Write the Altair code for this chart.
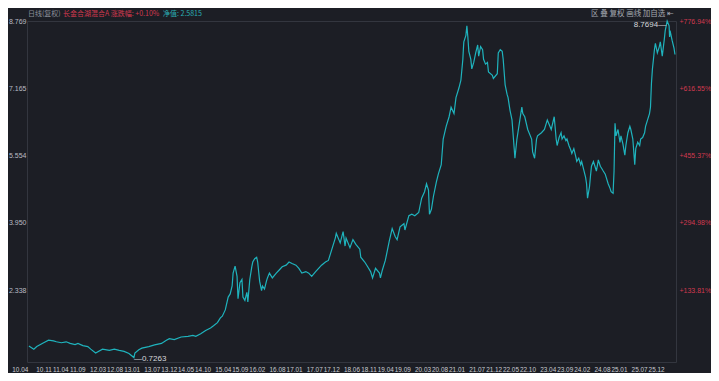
import altair as alt
import pandas as pd

# decimal-year positions and NAV values
T = [2010.274, 2010.395, 2010.468, 2010.637, 2010.758, 2010.879, 2010.951, 2011.072, 2011.193, 2011.290,
     2011.411, 2011.483, 2011.604, 2011.725, 2011.797, 2011.918, 2012.088, 2012.257, 2012.378, 2012.499,
     2012.619, 2012.740, 2012.861, 2012.885, 2012.982, 2013.055, 2013.224, 2013.369, 2013.538, 2013.659,
     2013.732, 2013.853, 2014.022, 2014.191, 2014.312,
     2014.384, 2014.505, 2014.626, 2014.747, 2014.820, 2014.916, 2014.989, 2015.037, 2015.110, 2015.182,
     2015.231, 2015.279, 2015.303, 2015.352, 2015.400, 2015.424, 2015.472, 2015.521, 2015.545, 2015.593,
     2015.642, 2015.666, 2015.714, 2015.763, 2015.787, 2015.835, 2015.883, 2015.908, 2015.956, 2016.004,
     2016.028, 2016.077, 2016.125, 2016.149, 2016.198, 2016.270, 2016.367, 2016.440, 2016.512, 2016.609,
     2016.681, 2016.754, 2016.851, 2016.923, 2016.996, 2017.093, 2017.165, 2017.237, 2017.334, 2017.407,
     2017.479, 2017.576,
     2017.648, 2017.721, 2017.818, 2017.842, 2017.939, 2018.011, 2018.059, 2018.084, 2018.180, 2018.253,
     2018.325, 2018.422, 2018.446, 2018.543, 2018.616, 2018.688, 2018.736, 2018.809, 2018.906, 2018.930,
     2018.978, 2019.051, 2019.148, 2019.220, 2019.293, 2019.341, 2019.414, 2019.510, 2019.534, 2019.631,
     2019.704, 2019.777, 2019.873, 2019.946, 2020.018, 2020.066, 2020.115, 2020.139, 2020.187, 2020.236,
     2020.308, 2020.357, 2020.429,
     2020.477, 2020.550, 2020.622, 2020.671, 2020.743, 2020.792, 2020.864, 2020.913, 2020.961, 2020.973,
     2020.985, 2021.034, 2021.058, 2021.082, 2021.106, 2021.155, 2021.179, 2021.227, 2021.275, 2021.324,
     2021.348, 2021.396, 2021.445, 2021.469, 2021.517, 2021.565, 2021.590, 2021.686, 2021.710, 2021.807,
     2021.831, 2021.880, 2021.928, 2021.952, 2022.001, 2022.049, 2022.073, 2022.121, 2022.170, 2022.194,
     2022.242, 2022.291, 2022.315, 2022.363, 2022.412, 2022.436, 2022.484, 2022.557, 2022.653, 2022.678,
     2022.726, 2022.774, 2022.798, 2022.895, 2022.968, 2023.040, 2023.137, 2023.210,
     2023.258, 2023.282, 2023.330, 2023.379, 2023.403, 2023.451, 2023.499, 2023.524, 2023.572, 2023.620,
     2023.644, 2023.693, 2023.741, 2023.765, 2023.814, 2023.862, 2023.886, 2023.934, 2023.983, 2024.007,
     2024.031, 2024.079, 2024.104, 2024.128, 2024.176, 2024.225, 2024.249, 2024.297, 2024.346, 2024.370,
     2024.418, 2024.467, 2024.491, 2024.539, 2024.588, 2024.612, 2024.660, 2024.684, 2024.708, 2024.733,
     2024.781, 2024.830, 2024.854, 2024.902, 2024.950, 2024.975, 2025.023, 2025.071, 2025.095, 2025.144,
     2025.192, 2025.216, 2025.265, 2025.313, 2025.337, 2025.386, 2025.434, 2025.458, 2025.507, 2025.555,
     2025.579,
     2025.603, 2025.627, 2025.652, 2025.676, 2025.700, 2025.748, 2025.797, 2025.821, 2025.869, 2025.917,
     2025.942, 2025.990, 2026.038, 2026.050, 2026.062, 2026.111, 2026.159, 2026.183]

V = [1.005, 0.927, 0.989, 1.080, 1.142, 1.126, 1.103, 1.080, 1.103, 1.064,
     1.035, 1.064, 1.012, 0.989, 0.927, 0.835, 0.927, 0.897, 0.927, 0.897,
     0.874, 0.822, 0.7263, 0.835, 0.913, 0.950, 0.989, 1.028, 1.064, 1.142,
     1.179, 1.156, 1.218, 1.234, 1.256,
     1.234, 1.293, 1.371, 1.431, 1.485, 1.561, 1.675, 1.714, 1.865, 2.172,
     2.247, 2.437, 2.744, 2.911, 2.666, 2.133, 2.515, 2.591, 2.172, 2.094,
     2.286, 2.057, 2.591, 2.895, 3.009, 3.087, 3.124, 3.009, 2.552, 2.323,
     2.437, 2.362, 2.552, 2.629, 2.744, 2.629, 2.744, 2.819, 2.895, 2.934,
     3.009, 2.973, 2.934, 2.858, 2.744, 2.781, 2.744, 2.666, 2.781, 2.858,
     2.934, 3.009,
     3.048, 3.277, 3.581, 3.696, 3.467, 3.735, 3.391, 3.581, 3.353, 3.545,
     3.430, 3.316, 3.124, 3.009, 2.895, 2.781, 2.629, 2.858, 2.744, 2.629,
     2.819, 3.048, 3.506, 3.810, 3.620, 3.545, 3.849, 3.925, 3.774, 4.117,
     4.153, 4.117, 4.192, 4.536, 4.689, 4.879, 4.726, 4.153, 4.268, 4.575,
     4.918, 5.108, 5.337,
     5.948, 6.252, 6.481, 6.710, 6.556, 6.938, 7.167, 7.357, 7.854, 8.083,
     8.272, 8.426, 8.655, 8.387, 8.044, 7.854, 7.625, 7.778, 8.007, 8.197,
     7.929, 8.158, 8.083, 7.854, 7.739, 7.778, 7.549, 7.472, 7.396, 7.510,
     8.007, 8.083, 8.044, 7.854, 7.243, 7.014, 6.938, 6.634, 6.405, 6.099,
     5.490, 5.948, 6.099, 6.405, 6.710, 6.556, 6.481, 6.176, 5.948, 5.641,
     5.490, 5.948, 6.023, 6.099, 6.176, 6.405, 6.176, 6.481,
     5.948, 5.794, 5.984, 6.099, 5.948, 6.023, 5.909, 5.948, 5.794, 5.680,
     5.604, 5.719, 5.526, 5.412, 5.490, 5.337, 5.412, 5.222, 5.032, 4.879,
     4.536, 4.803, 5.069, 5.298, 5.412, 5.261, 5.183, 5.451, 5.298, 5.261,
     5.183, 5.108, 5.032, 4.879, 4.764, 4.689, 4.650, 5.183, 6.327, 6.023,
     6.176, 5.870, 6.023, 5.833, 5.565, 5.794, 6.099, 6.252, 6.176, 5.948,
     5.337, 5.719, 5.870, 5.794, 5.948, 5.984, 6.099, 6.252, 6.405, 6.556,
     6.710,
     7.282, 7.625, 7.854, 8.083, 8.236, 8.007, 8.158, 8.272, 7.929, 8.311,
     8.540, 8.7694, 8.655, 8.387, 8.540, 8.311, 8.121, 7.968]

X_TICKS = ["2010-04", "2010-11", "2011-04", "2011-09", "2012-03", "2012-08", "2013-01", "2013-07",
           "2013-12", "2014-05", "2014-10", "2015-04", "2015-09", "2016-02", "2016-08", "2017-01",
           "2017-07", "2017-12", "2018-06", "2018-11", "2019-04", "2019-09", "2020-03", "2020-08",
           "2021-01", "2021-07", "2021-12", "2022-05", "2022-10", "2023-04", "2023-09", "2024-02",
           "2024-08", "2025-01", "2025-07", "2025-12"]
Y_TICKS = [2.338, 3.950, 5.554, 7.165, 8.769]
RIGHT_LABELS = ["+133.81%", "+294.98%", "+455.37%", "+616.55%", "+776.94%"]
HEADER = ["日线(复权)", "长金合湖混合A 涨跌幅: +0.10%", "净值: 2.5815"]
TOOLBAR = "区  叠  复权  画线  加自选  ⇤"

BG = "#1c1e25"
LINE = "#1fb3bd"
GREY = "#b9bcc3"
RED = "#d1394f"


def to_date(t):
    y = int(t)
    return pd.Timestamp(year=y, month=1, day=1) + pd.Timedelta(days=(t - y) * 365.25)


df = pd.DataFrame({"date": [to_date(t) for t in T], "nav": V})
i_min = V.index(min(V))
i_max = V.index(max(V))
df_min = pd.DataFrame({"date": [df["date"][i_min]], "nav": [V[i_min]], "lab": ["—" + f"{V[i_min]:.4f}"]})
df_max = pd.DataFrame({"date": [df["date"][i_max]], "nav": [V[i_max]], "lab": [f"{V[i_max]:.4f}" + "—"]})

xscale = alt.Scale(domain=[alt.DateTime(year=2010, month=3, date=25),
                           alt.DateTime(year=2026, month=3, date=18)])
yscale = alt.Scale(domain=[0.62, 8.769], nice=False, zero=False)

x_axis = alt.Axis(
    values=[alt.DateTime(year=int(s[:4]), month=int(s[5:]), date=1) for s in X_TICKS],
    format="%y.%m", labelOverlap=False, labelFlush=False, labelFontSize=6.4,
    labelColor="#c9ccd2", labelFont="Liberation Sans", labelOffset=-8, labelPadding=4,
    domain=False, ticks=False, grid=False, title=None)
X = alt.X("date:T", scale=xscale, axis=x_axis)

left_axis = alt.Axis(values=Y_TICKS, format=".3f", orient="left", labelFontSize=7,
                     labelColor=GREY, labelFont="Liberation Sans", ticks=False, domain=False,
                     grid=False, title=None, labelPadding=1)

expr = "[" + ",".join(f"'{s}'" for s in RIGHT_LABELS) + "][indexof([" + \
       ",".join(str(v) for v in Y_TICKS) + "], datum.value)]"
right_axis = alt.Axis(values=Y_TICKS, orient="right", labelExpr=expr, labelFontSize=7,
                      labelColor=RED, labelFont="Liberation Sans", ticks=False, domain=False,
                      grid=False, title=None, labelPadding=3)

line = alt.Chart(df).mark_line(color=LINE, strokeWidth=1.2).encode(
    x=X, y=alt.Y("nav:Q", scale=yscale, axis=left_axis))

right = alt.Chart(df).mark_line(opacity=0).encode(
    x=X, y=alt.Y("nav:Q", scale=yscale, axis=right_axis))

min_lab = alt.Chart(df_min).mark_text(align="left", baseline="middle", fontSize=8,
                                      font="Liberation Sans", color="#d6d8dd", dx=0, dy=1).encode(
    x=X, y=alt.Y("nav:Q", scale=yscale, axis=None), text="lab:N")

max_lab = alt.Chart(df_max).mark_text(align="right", baseline="middle", fontSize=8,
                                      font="Liberation Sans", color="#d6d8dd", dx=-1, dy=4).encode(
    x=X, y=alt.Y("nav:Q", scale=yscale, axis=None), text="lab:N")

one = pd.DataFrame({"k": [0]})
h1 = alt.Chart(one).mark_text(align="left", baseline="middle", fontSize=7,
                              font="Noto Sans CJK SC", color="#8d919b").encode(
    x=alt.value(1), y=alt.value(-7), text=alt.value(HEADER[0]))
h2 = alt.Chart(one).mark_text(align="left", baseline="middle", fontSize=7,
                              font="Noto Sans CJK SC", color=RED).encode(
    x=alt.value(36), y=alt.value(-7), text=alt.value(HEADER[1]))
h3 = alt.Chart(one).mark_text(align="left", baseline="middle", fontSize=7,
                              font="Noto Sans CJK SC", color="#2bb0b6").encode(
    x=alt.value(136), y=alt.value(-7), text=alt.value(HEADER[2]))
tb = alt.Chart(one).mark_text(align="right", baseline="middle", fontSize=7.5,
                              font="Noto Sans CJK SC", color="#a3a7b0", x="width", dx=-2).encode(
    y=alt.value(-7), text=alt.value(TOOLBAR))

chart = alt.layer(line, right, min_lab, max_lab, h1, h2, h3, tb).resolve_scale(
    y="independent"
).properties(
    width=703, height=365, background=BG,
    autosize=alt.AutoSizeParams(type="fit", contains="padding"),
    padding={"left": 0, "top": 2, "right": 0, "bottom": 0}
).configure_view(stroke="#33363f", strokeWidth=1)

chart.save("out.html", embed_options={"renderer": "svg", "actions": False})
